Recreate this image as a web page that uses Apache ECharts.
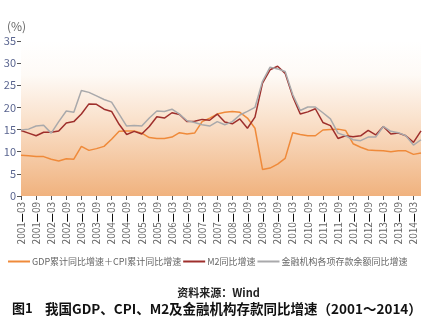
<!DOCTYPE html>
<html>
<head>
<meta charset="utf-8">
<script src="https://cdn.jsdelivr.net/npm/echarts@6/dist/echarts.min.js"></script>
<style>
html,body{margin:0;padding:0;background:#fff;}
#chart{width:437px;height:328px;}
</style>
</head>
<body>
<div id="chart"></div>
<script>
var quarters = ['03','06','09','12'];
var categories = [];
for (var y = 2001; y <= 2014; y++) {
  for (var q = 0; q < 4; q++) {
    if (y === 2014 && q > 1) break;
    categories.push(y + '-' + quarters[q]);
  }
}
var gdpCpi = [9.2, 9.1, 8.9, 8.9, 8.3, 7.9, 8.4, 8.3, 11.2, 10.3, 10.7, 11.2, 12.8, 14.6, 14.7, 14.7,
  14.2, 13.2, 13.0, 13.0, 13.3, 14.3, 14.0, 14.2, 16.8, 17.6, 18.5, 18.9, 19.1, 18.9, 17.6, 15.3,
  6.0, 6.3, 7.2, 8.5, 14.3, 13.9, 13.6, 13.6, 14.9, 15.0, 15.1, 14.8, 11.8, 11.0, 10.4, 10.3,
  10.2, 10.0, 10.2, 10.2, 9.4, 9.7];
var m2 = [14.8, 14.2, 13.6, 14.4, 14.4, 14.7, 16.5, 16.8, 18.5, 20.8, 20.7, 19.6, 19.1, 16.2, 13.9, 14.6,
  14.0, 15.7, 17.9, 17.6, 18.8, 18.4, 16.8, 16.9, 17.3, 17.1, 18.5, 16.7, 16.3, 17.4, 15.3, 17.8,
  25.5, 28.5, 29.3, 27.7, 22.5, 18.5, 19.0, 19.7, 16.6, 15.9, 13.0, 13.6, 13.4, 13.6, 14.8, 13.8,
  15.7, 14.0, 14.2, 13.6, 12.1, 14.7];
var deposits = [14.9, 15.1, 15.8, 16.0, 14.2, 16.8, 19.2, 18.9, 23.8, 23.4, 22.6, 21.8, 21.2, 18.5, 15.8, 15.9,
  15.8, 17.6, 19.2, 19.1, 19.6, 18.5, 17.0, 16.6, 16.1, 15.8, 16.8, 16.1, 16.8, 18.3, 19.1, 20.0,
  25.9, 29.1, 28.7, 28.1, 22.9, 19.3, 20.1, 20.1, 18.8, 17.4, 14.2, 13.6, 12.7, 12.5, 13.3, 13.3,
  15.7, 14.6, 14.3, 13.6, 11.5, 12.7];
var seriesNames = ['GDP累计同比增速＋CPI累计同比增速', 'M2同比增速', '金融机构各项存款余额同比增速'];
var yTicks = [0, 5, 10, 15, 20, 25, 30, 35];
var yUnit = '(%)';
var sourceText = '资料来源：Wind';
var figNo = '图1';
var figTitle = '我国GDP、CPI、M2及金融机构存款同比增速（2001～2014）';

var chart = echarts.init(document.getElementById('chart'), null, {renderer: 'canvas'});
var font = '"Noto Sans CJK SC", "Noto Sans", sans-serif';
var option = {
  animation: false,
  backgroundColor: '#ffffff',
  textStyle: {fontFamily: font},
  title: [
    {text: yUnit, left: 2, top: 15, textStyle: {fontSize: 12, fontWeight: 'normal', color: '#666', fontFamily: font}},
    {text: sourceText, left: 'center', top: 282, textStyle: {fontSize: 11, fontWeight: 'bold', color: '#222', fontFamily: font}},
    {text: figNo, left: 7, top: 297, textStyle: {fontSize: 13, fontWeight: 'bold', color: '#111', fontFamily: font}},
    {text: figTitle, left: 40, top: 297, textStyle: {fontSize: 13.5, fontWeight: 'bold', color: '#111', fontFamily: font}}
  ],
  legend: {
    left: 3, top: 252,
    itemWidth: 22, itemHeight: 2, itemGap: 2,
    icon: 'rect',
    textStyle: {fontSize: 9, color: '#666', padding: [0, 0, 0, -3], fontFamily: font},
    data: seriesNames
  },
  grid: {
    left: 21, right: 16, top: 41, bottom: 132,
    show: true, borderWidth: 0,
    backgroundColor: new echarts.graphic.LinearGradient(0, 0, 0, 1, [
      {offset: 0, color: '#ffffff'},
      {offset: 0.22, color: '#fefaf6'},
      {offset: 0.5, color: '#fae2cd'},
      {offset: 1, color: '#f0b27e'}
    ])
  },
  xAxis: {
    type: 'category',
    data: categories,
    boundaryGap: false,
    axisLine: {show: false},
    axisTick: {show: true, interval: 1, length: 4, lineStyle: {color: '#555'}},
    axisLabel: {
      interval: 1, rotate: 90, fontSize: 10, color: '#666', margin: 6,
      formatter: function (v) { var p = v.split('-'); return '{a|' + p[0] + '}{b|—}{a|' + p[1] + '}'; },
      rich: {a: {fontSize: 10, color: '#666'}, b: {fontSize: 10, color: '#000', fontWeight: 'bold'}}
    },
    splitLine: {show: false}
  },
  yAxis: {
    type: 'value', min: yTicks[0], max: yTicks[yTicks.length - 1], interval: 5,
    axisLine: {show: false},
    axisTick: {show: true, length: 4, lineStyle: {color: '#555'}},
    axisLabel: {fontSize: 11, color: '#5a6590', margin: 5},
    splitLine: {show: false}
  },
  series: [
    {name: seriesNames[0], type: 'line', data: gdpCpi, symbol: 'none', color: '#ef8a3a', lineStyle: {width: 1.5, color: '#ef8a3a'}},
    {name: seriesNames[1], type: 'line', data: m2, symbol: 'none', color: '#9e2f2c', lineStyle: {width: 1.5, color: '#9e2f2c'}},
    {name: seriesNames[2], type: 'line', data: deposits, symbol: 'none', color: '#a9a9ab', lineStyle: {width: 1.5, color: '#a9a9ab'}}
  ]
};
chart.setOption(option);
</script>
</body>
</html>
